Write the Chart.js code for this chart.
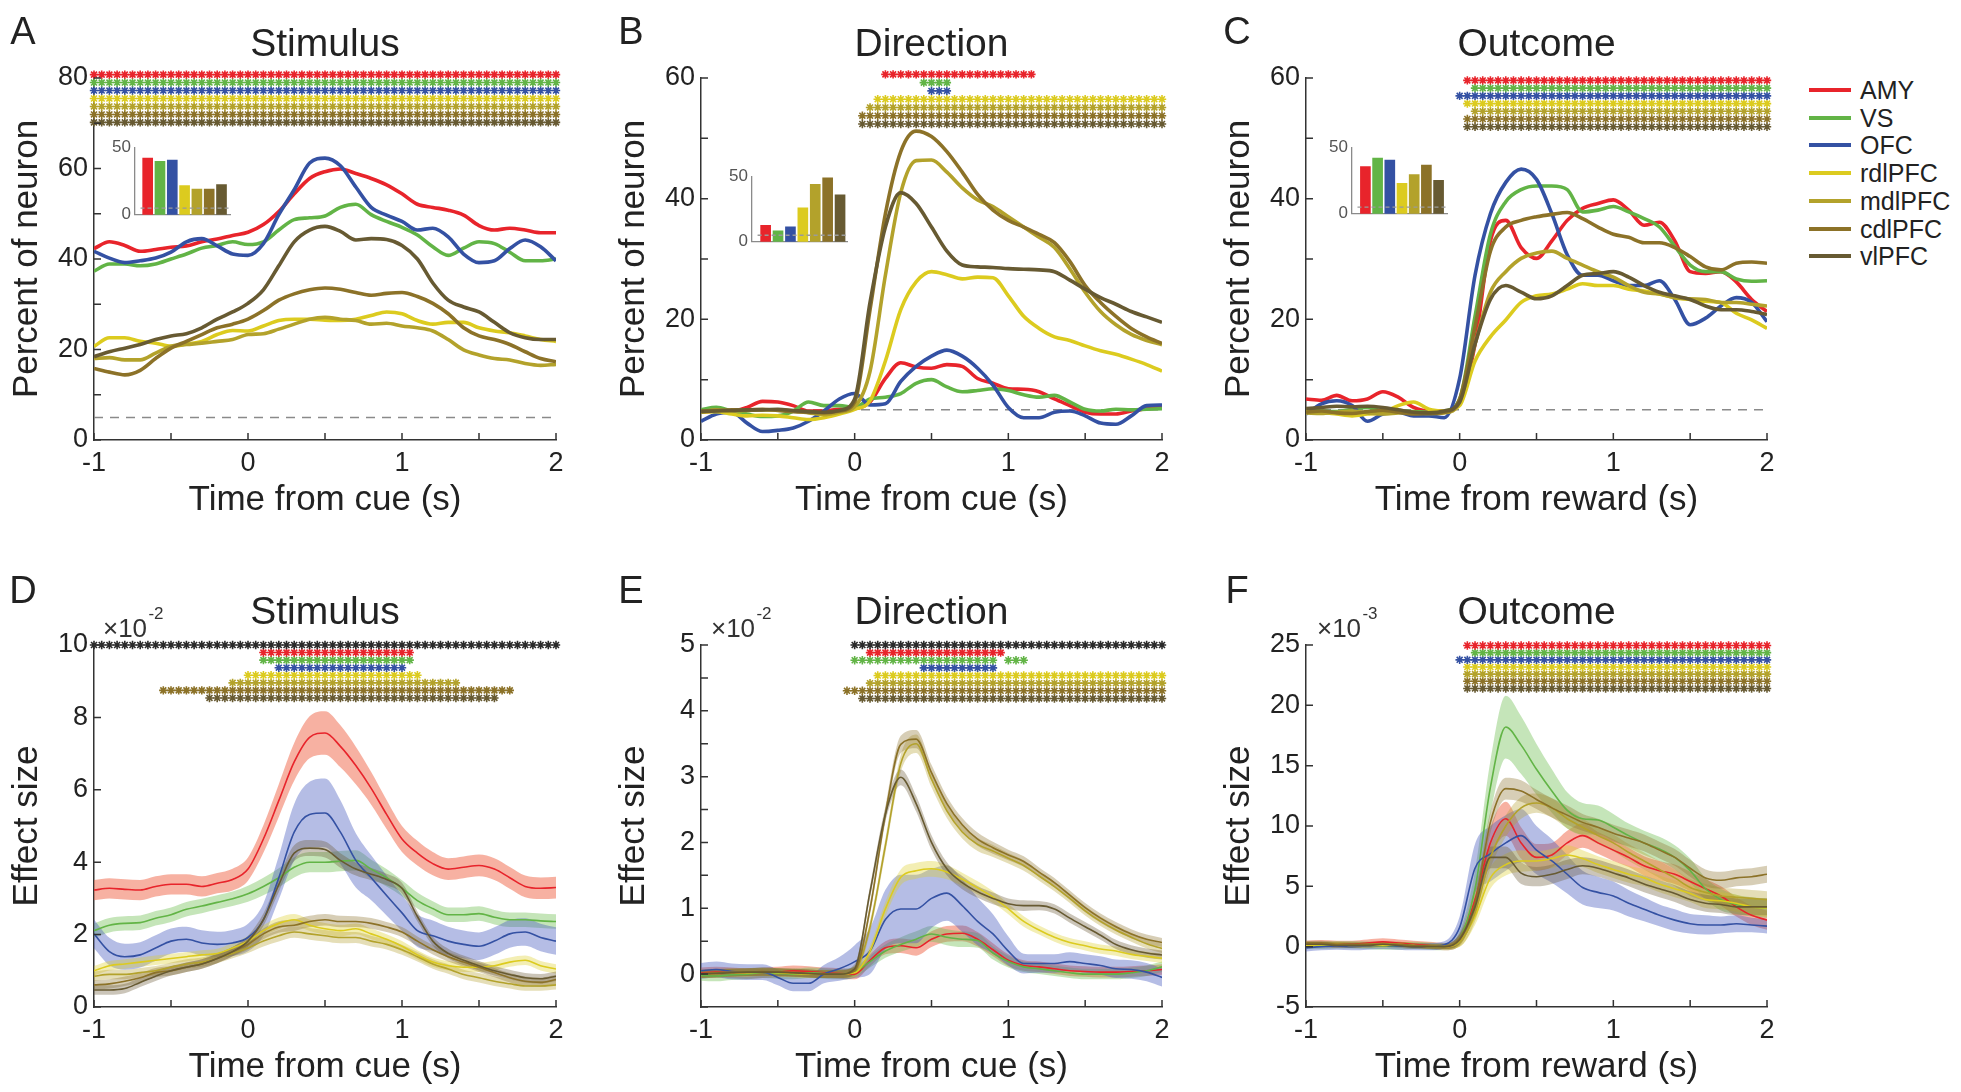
<!DOCTYPE html>
<html>
<head>
<meta charset="utf-8">
<script src="https://cdn.jsdelivr.net/npm/chart.js@4.4.1/dist/chart.umd.min.js"></script>
<style>
  body { margin: 0; background: #fff; width: 1961px; height: 1092px; position: relative; overflow: hidden;
         font-family: "Liberation Sans", Arial, sans-serif; color: #222; }
  canvas { position: absolute; }
  .t { position: absolute; white-space: nowrap; line-height: 1; transform: translate(-50%, -50%); }
  .leg { position: absolute; white-space: nowrap; line-height: 1; font-size: 25px; transform: translateY(-50%); }
  .legline { position: absolute; height: 4px; width: 42px; }
</style>
</head>
<body>
<script>
'use strict';

// ---- data ----
var regions = ['AMY', 'VS', 'OFC', 'rdlPFC', 'mdlPFC', 'cdlPFC', 'vlPFC'];
var colors = ['#e8242b', '#62b446', '#3451a3', '#dccb1f', '#b3a22b', '#8c7228', '#675a32'];
var bandColors = ['rgba(240,100,70,0.5)', 'rgba(110,190,80,0.4)', 'rgba(70,90,190,0.4)', 'rgba(220,205,40,0.35)',
                  'rgba(180,160,50,0.35)', 'rgba(140,115,45,0.35)', 'rgba(105,90,55,0.35)'];

var times = [-1,-0.9,-0.8,-0.7,-0.6,-0.5,-0.4,-0.3,-0.2,-0.1,0,0.1,0.2,0.3,0.4,0.5,0.6,0.7,0.8,0.9,1,1.1,1.2,1.3,1.4,1.5,1.6,1.7,1.8,1.9,2];
var starTimes = [-1,-0.95,-0.9,-0.85,-0.8,-0.75,-0.7,-0.65,-0.6,-0.55,-0.5,-0.45,-0.4,-0.35,-0.3,-0.25,-0.2,-0.15,-0.1,-0.05,
                 0,0.05,0.1,0.15,0.2,0.25,0.3,0.35,0.4,0.45,0.5,0.55,0.6,0.65,0.7,0.75,0.8,0.85,0.9,0.95,
                 1,1.05,1.1,1.15,1.2,1.25,1.3,1.35,1.4,1.45,1.5,1.55,1.6,1.65,1.7,1.75,1.8,1.85,1.9,1.95,2];

// percent of neurons, rows in region order
var pctStimulus = [
  [42.3,43.8,43.0,41.7,42.1,42.6,42.9,43.8,44.4,45.2,45.9,47.6,50.5,54.4,57.8,59.3,59.9,58.9,57.8,56.4,54.4,52.1,51.4,50.8,49.7,47.4,46.4,46.8,46.4,45.8,45.8],
  [37.3,38.9,38.9,38.5,38.9,40.0,41.1,42.4,43.0,43.8,43.2,43.8,46.4,48.7,49.1,49.5,51.4,52.1,49.8,48.3,47.0,45.3,42.7,40.8,42.4,43.8,43.4,41.5,39.6,39.6,40.0],
  [41.7,40.2,39.2,39.6,40.2,41.5,43.8,44.5,42.9,41.1,40.8,43.4,49.8,55.3,61.2,62.3,60.6,55.9,51.4,49.7,48.3,46.4,46.8,44.9,41.1,39.2,39.6,42.3,44.2,42.7,39.6],
  [20.7,22.6,22.6,21.8,21.4,20.7,21.2,21.8,23.3,24.2,24.1,25.2,26.4,26.7,26.7,26.5,26.4,26.7,27.5,28.3,27.9,26.4,25.6,26.0,26.0,24.8,24.1,23.7,23.0,22.2,21.8],
  [18.0,18.2,17.7,17.7,19.2,20.7,21.1,21.4,21.8,22.2,23.3,23.5,24.5,25.6,26.7,27.1,26.7,26.4,25.6,25.8,25.2,24.8,24.1,22.2,19.9,18.8,18.0,17.7,16.9,16.5,16.7],
  [15.8,15.0,14.4,15.4,18.0,20.3,21.8,23.3,24.8,25.6,26.7,28.6,30.9,32.3,33.2,33.6,33.3,32.6,32.0,32.4,32.6,31.7,30.2,27.9,24.8,23.0,22.2,21.1,19.5,18.0,17.3],
  [18.4,19.5,20.3,21.1,22.2,23.0,23.5,24.8,26.7,28.3,30.2,33.2,38.5,43.8,46.4,47.2,46.1,44.2,44.5,44.3,43.0,40.0,34.7,30.9,29.4,28.3,26.0,23.7,22.6,22.2,22.2]
];
var pctDirection = [
  [4.6,4.8,4.8,5.4,6.4,6.3,5.7,4.8,4.8,5.1,5.2,6.3,10.2,12.8,12.1,11.9,12.5,12.2,10.2,9.4,8.5,8.4,8.0,6.8,5.7,4.6,4.3,4.3,4.8,5.2,5.4],
  [5.0,5.4,4.8,4.3,3.9,4.0,4.8,6.3,5.7,5.7,5.4,6.8,7.1,7.7,9.4,10.0,8.8,8.0,8.2,8.5,8.2,7.5,7.1,7.4,6.3,5.1,4.8,5.1,5.0,5.1,5.2],
  [3.1,4.3,4.6,2.8,1.4,1.6,2.0,3.1,4.8,6.8,7.7,5.8,6.0,9.7,12.2,13.9,14.9,13.9,11.9,9.1,5.4,3.7,3.7,4.6,4.8,4.0,2.8,2.6,4.0,5.7,5.8],
  [4.6,4.7,4.3,4.0,4.1,4.0,3.7,3.4,3.7,4.3,5.1,6.5,13.1,21.6,26.2,27.9,27.4,26.7,27.0,26.9,23.9,20.5,18.5,17.1,16.5,15.6,14.8,14.2,13.4,12.5,11.4],
  [4.6,5.0,4.8,4.9,5.0,5.0,4.8,4.5,4.2,4.6,5.5,11.4,27.3,41.0,46.3,46.4,44.4,41.8,39.8,38.7,37.0,35.3,33.6,31.9,28.4,24.5,21.3,19.1,17.5,16.5,15.8],
  [4.8,4.9,5.0,5.0,5.1,4.9,4.7,4.6,4.5,4.8,6.3,21.6,37.5,47.8,51.2,50.3,47.8,44.4,40.7,38.1,36.4,35.3,34.1,32.7,29.6,25.6,22.8,20.5,18.5,17.1,16.0],
  [4.7,4.8,4.9,5.0,5.0,5.1,4.9,4.7,4.6,4.9,6.8,22.8,35.3,41.0,39.2,35.3,31.3,29.0,28.7,28.6,28.4,28.3,28.2,27.9,26.5,25.0,23.6,22.5,21.3,20.4,19.5]
];
var pctOutcome = [
  [6.8,6.6,7.4,6.5,6.8,8.0,7.1,5.4,4.8,4.8,6.3,15.9,33.0,36.4,31.9,30.1,33.0,36.4,38.4,39.2,39.8,38.1,35.6,36.1,33.0,27.9,27.6,27.9,26.2,23.3,21.3],
  [5.1,4.8,4.7,5.1,5.4,4.8,4.8,4.7,4.6,4.8,6.8,20.5,34.1,39.5,41.5,42.1,42.1,41.5,37.8,38.1,38.7,37.8,36.7,35.3,32.1,29.0,27.9,27.9,26.7,26.3,26.4],
  [4.3,6.0,6.5,5.7,3.1,4.3,4.6,4.0,4.0,3.7,10.2,27.3,37.5,42.7,44.9,43.2,37.5,30.7,27.3,27.3,26.4,25.6,25.6,26.4,23.3,19.1,20.2,22.2,23.6,22.8,19.6],
  [4.8,4.6,4.3,4.0,4.3,4.6,5.7,6.3,5.1,4.8,5.7,13.1,17.1,19.9,22.8,23.9,24.2,25.0,25.9,25.6,25.6,25.0,24.7,24.2,23.6,23.3,23.0,22.8,21.0,19.9,18.5],
  [4.5,4.4,4.6,4.8,4.5,4.3,4.5,4.6,4.4,4.5,6.3,15.9,24.5,27.9,30.1,31.0,31.3,30.1,29.0,27.9,27.0,25.6,24.5,24.2,23.6,23.4,23.3,22.8,22.8,22.5,22.2],
  [4.6,4.8,4.5,4.4,4.7,4.9,4.6,4.3,4.4,4.6,6.8,18.8,31.3,35.3,36.4,37.0,37.4,37.7,36.7,35.3,34.1,33.6,32.7,32.7,31.9,30.4,28.7,28.2,29.3,29.5,29.3],
  [5.2,5.4,5.6,5.5,5.6,5.4,5.0,4.6,4.5,4.8,6.3,15.9,23.3,25.6,24.5,23.4,23.9,25.6,27.3,27.6,27.9,27.0,25.6,24.5,23.9,23.3,22.2,21.6,21.6,21.3,20.8]
];

// inset bars: percent of selective neurons per region
var barStimulus = [41.9, 39.5, 40.5, 21.7, 19.0, 19.0, 22.3];
var barDirection = [12.5, 8.3, 11.5, 25.8, 43.8, 48.8, 35.8];
var barOutcome = [35.4, 41.8, 40.3, 22.8, 29.4, 36.6, 25.1];

// effect size (x1e-2 for stimulus/direction, x1e-3 for outcome)
var effStimulus = [
  [3.23,3.28,3.25,3.23,3.33,3.39,3.39,3.33,3.42,3.52,3.81,4.64,5.70,6.77,7.45,7.57,7.20,6.67,6.04,5.32,4.64,4.25,3.96,3.81,3.86,3.91,3.81,3.57,3.33,3.28,3.30],
  [2.11,2.26,2.31,2.33,2.45,2.55,2.70,2.79,2.89,2.99,3.13,3.33,3.57,3.86,4.00,4.00,4.03,4.05,3.81,3.57,3.28,2.94,2.72,2.55,2.55,2.58,2.48,2.41,2.41,2.38,2.36],
  [2.02,1.53,1.39,1.44,1.63,1.82,1.87,1.77,1.73,1.77,1.92,2.41,3.57,4.83,5.32,5.36,4.83,4.05,3.57,3.08,2.60,2.11,1.97,1.82,1.73,1.68,1.82,2.02,2.07,1.92,1.82],
  [1.00,1.14,1.19,1.24,1.29,1.34,1.39,1.44,1.48,1.63,1.82,2.11,2.31,2.41,2.26,2.16,2.11,2.16,2.02,1.87,1.68,1.44,1.24,1.14,1.10,1.10,1.14,1.24,1.29,1.14,1.05],
  [0.85,0.90,0.90,0.95,1.00,1.10,1.19,1.24,1.34,1.48,1.63,1.82,1.97,2.07,2.02,1.97,1.92,1.92,1.82,1.73,1.58,1.39,1.19,1.05,0.90,0.81,0.71,0.64,0.58,0.58,0.61],
  [0.61,0.64,0.71,0.81,0.95,1.00,1.10,1.19,1.34,1.53,1.73,2.02,2.21,2.26,2.36,2.41,2.36,2.36,2.31,2.21,2.07,1.82,1.58,1.39,1.24,1.10,0.95,0.81,0.71,0.68,0.76],
  [0.47,0.47,0.51,0.68,0.85,1.00,1.10,1.19,1.34,1.53,1.82,2.41,3.38,4.25,4.39,4.35,4.05,3.81,3.67,3.52,3.28,2.50,1.82,1.48,1.29,1.14,1.00,0.90,0.81,0.78,0.85]
];
var semStimulus = [
  [0.28,0.28,0.28,0.28,0.28,0.28,0.28,0.28,0.28,0.30,0.32,0.38,0.45,0.52,0.58,0.60,0.58,0.52,0.45,0.40,0.36,0.34,0.32,0.30,0.30,0.30,0.30,0.30,0.30,0.30,0.30],
  [0.20,0.20,0.20,0.20,0.20,0.20,0.20,0.20,0.20,0.20,0.22,0.24,0.26,0.28,0.28,0.28,0.28,0.28,0.26,0.24,0.22,0.22,0.20,0.20,0.20,0.20,0.20,0.20,0.20,0.20,0.20],
  [0.40,0.38,0.36,0.35,0.35,0.35,0.35,0.35,0.35,0.36,0.38,0.45,0.60,0.78,0.90,0.95,0.88,0.75,0.62,0.55,0.50,0.45,0.42,0.40,0.38,0.38,0.38,0.38,0.38,0.38,0.38],
  [0.13,0.13,0.13,0.13,0.13,0.13,0.13,0.13,0.13,0.13,0.14,0.15,0.16,0.16,0.16,0.16,0.16,0.15,0.15,0.14,0.14,0.13,0.13,0.13,0.13,0.13,0.13,0.13,0.13,0.13,0.13],
  [0.13,0.13,0.13,0.13,0.13,0.13,0.13,0.13,0.13,0.13,0.14,0.15,0.16,0.16,0.16,0.16,0.16,0.15,0.15,0.14,0.14,0.13,0.13,0.13,0.13,0.13,0.13,0.13,0.13,0.13,0.13],
  [0.13,0.13,0.13,0.13,0.13,0.13,0.13,0.13,0.13,0.13,0.14,0.15,0.16,0.16,0.16,0.16,0.16,0.15,0.15,0.14,0.14,0.13,0.13,0.13,0.13,0.13,0.13,0.13,0.13,0.13,0.13],
  [0.13,0.13,0.13,0.13,0.13,0.13,0.13,0.13,0.13,0.13,0.15,0.17,0.20,0.22,0.22,0.22,0.20,0.18,0.17,0.16,0.15,0.14,0.13,0.13,0.13,0.13,0.13,0.13,0.13,0.13,0.13]
];
var effDirection = [
  [0.02,0.03,0.02,0.01,0.02,0.03,0.05,0.04,0.02,0.01,0.00,0.21,0.40,0.43,0.40,0.53,0.61,0.62,0.53,0.37,0.21,0.13,0.11,0.08,0.05,0.04,0.03,0.03,0.04,0.05,0.07],
  [-0.02,-0.03,-0.01,0.00,0.02,0.01,0.00,0.02,0.01,0.00,0.03,0.19,0.35,0.45,0.53,0.61,0.56,0.53,0.51,0.32,0.19,0.11,0.08,0.05,0.02,0.00,0.00,0.00,0.02,0.05,0.11],
  [0.05,0.07,0.04,0.03,0.03,-0.05,-0.14,-0.14,0.00,0.08,0.19,0.35,0.83,0.99,0.99,1.15,1.23,1.04,0.80,0.61,0.35,0.16,0.16,0.16,0.19,0.16,0.13,0.08,0.07,0.03,-0.05],
  [0.00,0.01,0.02,0.02,0.03,0.02,0.01,0.00,0.00,0.00,0.02,0.35,0.99,1.47,1.57,1.60,1.55,1.44,1.31,1.17,0.99,0.80,0.67,0.56,0.48,0.43,0.38,0.35,0.30,0.27,0.24],
  [0.00,0.01,0.02,0.03,0.03,0.03,0.02,0.01,0.00,0.00,0.05,0.72,1.95,3.20,3.50,2.96,2.48,2.16,1.97,1.87,1.76,1.65,1.49,1.33,1.15,0.96,0.80,0.67,0.56,0.46,0.39],
  [0.01,0.02,0.03,0.03,0.04,0.03,0.02,0.01,0.00,0.00,0.05,0.99,2.43,3.49,3.57,3.06,2.59,2.27,2.05,1.92,1.81,1.71,1.55,1.39,1.20,1.01,0.85,0.72,0.61,0.53,0.48],
  [0.00,0.01,0.02,0.03,0.03,0.03,0.02,0.01,0.00,0.00,0.08,1.25,2.43,2.99,2.59,2.00,1.60,1.39,1.25,1.15,1.07,1.04,1.04,0.99,0.85,0.72,0.59,0.45,0.37,0.32,0.29]
];
var semDirection = [
  [0.08,0.08,0.08,0.08,0.08,0.08,0.08,0.08,0.08,0.08,0.08,0.09,0.10,0.11,0.12,0.12,0.12,0.12,0.11,0.10,0.09,0.08,0.08,0.08,0.08,0.08,0.08,0.08,0.08,0.08,0.08],
  [0.08,0.08,0.08,0.08,0.08,0.08,0.08,0.08,0.08,0.08,0.08,0.09,0.10,0.11,0.12,0.12,0.12,0.12,0.11,0.10,0.09,0.08,0.08,0.08,0.08,0.08,0.08,0.08,0.08,0.08,0.08],
  [0.12,0.12,0.12,0.12,0.12,0.12,0.12,0.12,0.14,0.18,0.25,0.35,0.45,0.52,0.52,0.45,0.42,0.40,0.36,0.30,0.22,0.15,0.14,0.14,0.14,0.14,0.14,0.14,0.14,0.14,0.14],
  [0.06,0.06,0.06,0.06,0.06,0.06,0.06,0.06,0.06,0.06,0.07,0.09,0.11,0.12,0.12,0.12,0.11,0.10,0.10,0.09,0.08,0.08,0.07,0.07,0.07,0.07,0.07,0.07,0.07,0.07,0.07],
  [0.06,0.06,0.06,0.06,0.06,0.06,0.06,0.06,0.06,0.06,0.07,0.09,0.11,0.13,0.14,0.12,0.11,0.10,0.10,0.09,0.08,0.08,0.07,0.07,0.07,0.07,0.07,0.07,0.07,0.07,0.07],
  [0.06,0.06,0.06,0.06,0.06,0.06,0.06,0.06,0.06,0.06,0.07,0.09,0.11,0.13,0.14,0.12,0.11,0.10,0.10,0.09,0.08,0.08,0.07,0.07,0.07,0.07,0.07,0.07,0.07,0.07,0.07],
  [0.06,0.06,0.06,0.06,0.06,0.06,0.06,0.06,0.06,0.06,0.07,0.09,0.11,0.12,0.12,0.11,0.10,0.10,0.09,0.09,0.08,0.08,0.07,0.07,0.07,0.07,0.07,0.07,0.07,0.07,0.07]
];
var effOutcome = [
  [0.2,0.25,0.2,0.2,0.3,0.4,0.3,0.2,0.1,0.0,0.6,3.9,8.6,10.6,8.6,7.4,7.6,8.6,9.2,8.6,8.0,7.4,6.7,6.3,6.0,5.4,4.8,4.2,3.3,2.6,2.2],
  [0.1,0.1,0.15,0.15,0.1,0.05,0.05,0.1,0.05,0.0,0.7,4.8,13.2,18.2,16.7,14.7,12.9,11.3,10.6,10.5,9.9,9.2,8.6,8.1,7.4,6.3,4.8,3.9,3.5,3.3,3.2],
  [-0.1,0.0,0.05,0.0,0.05,0.1,0.05,0.0,0.0,0.15,1.6,6.5,7.7,8.6,9.2,8.0,7.1,6.0,4.9,4.5,4.2,3.6,3.1,2.6,2.2,1.9,1.8,1.8,1.9,1.8,1.7],
  [0.1,0.15,0.2,0.1,0.1,0.1,0.2,0.1,0.0,0.0,0.4,2.5,5.7,6.8,7.1,7.1,7.3,7.6,7.3,6.8,6.4,6.0,5.7,5.2,4.8,4.4,3.9,3.8,3.6,3.3,3.2],
  [0.2,0.2,0.2,0.15,0.2,0.25,0.2,0.1,0.05,0.0,0.4,2.8,7.4,10.0,11.5,11.9,11.5,10.6,9.9,9.2,8.6,7.8,7.1,6.4,5.7,4.9,4.5,4.2,4.1,4.0,3.9],
  [0.3,0.3,0.2,0.2,0.2,0.2,0.2,0.1,0.05,0.0,0.7,3.6,10.3,13.1,12.9,12.2,11.5,10.9,10.3,9.9,9.4,9.0,8.6,8.0,7.4,6.5,5.7,5.5,5.7,5.8,6.0],
  [0.2,0.2,0.1,0.1,0.1,0.2,0.1,0.0,0.0,0.0,0.6,3.3,7.4,7.4,6.1,5.8,6.0,6.4,6.7,6.5,6.1,5.7,5.2,4.8,4.4,3.9,3.6,3.5,3.3,3.3,3.3]
];
var semOutcome = [
  [0.3,0.3,0.3,0.3,0.3,0.3,0.3,0.3,0.3,0.3,0.5,1.0,1.3,1.4,1.3,1.1,1.0,1.0,1.0,0.9,0.9,0.8,0.8,0.8,0.8,0.8,0.8,0.8,0.8,0.8,0.8],
  [0.3,0.3,0.3,0.3,0.3,0.3,0.3,0.3,0.3,0.3,0.6,1.5,2.2,2.6,2.4,2.1,1.8,1.5,1.3,1.2,1.1,1.0,1.0,1.0,1.0,1.0,0.9,0.9,0.8,0.8,0.8],
  [0.3,0.3,0.3,0.3,0.3,0.3,0.3,0.3,0.3,0.3,0.9,2.0,2.3,2.3,2.2,2.0,1.8,1.6,1.4,1.3,1.2,1.1,1.0,0.9,0.9,0.8,0.8,0.7,0.7,0.6,0.6],
  [0.2,0.2,0.2,0.2,0.2,0.2,0.2,0.2,0.2,0.2,0.4,0.7,0.9,0.9,0.9,0.8,0.8,0.8,0.7,0.7,0.7,0.7,0.7,0.7,0.7,0.7,0.7,0.7,0.7,0.7,0.7],
  [0.2,0.2,0.2,0.2,0.2,0.2,0.2,0.2,0.2,0.2,0.4,0.7,0.9,0.9,0.9,0.8,0.8,0.8,0.7,0.7,0.7,0.7,0.7,0.7,0.7,0.7,0.7,0.7,0.7,0.7,0.7],
  [0.2,0.2,0.2,0.2,0.2,0.2,0.2,0.2,0.2,0.2,0.4,0.7,0.9,0.9,0.9,0.8,0.8,0.8,0.7,0.7,0.7,0.7,0.7,0.7,0.7,0.7,0.7,0.7,0.7,0.7,0.7],
  [0.2,0.2,0.2,0.2,0.2,0.2,0.2,0.2,0.2,0.2,0.4,0.7,0.9,0.9,0.9,0.8,0.8,0.8,0.7,0.7,0.7,0.7,0.7,0.7,0.7,0.7,0.7,0.7,0.7,0.7,0.7]
];

// significant periods (s), one row per region; effect-size panels start with an "all regions" row
var sigPctStimulus = [[[-1, 2]], [[-1, 2]], [[-1, 2]], [[-1, 2]], [[-1, 2]], [[-1, 2]], [[-1, 2]]];
var sigPctDirection = [[[0.19, 1.17]], [[0.44, 0.62]], [[0.48, 0.62]], [[0.13, 2]], [[0.08, 2]], [[0.04, 2]], [[0.04, 2]]];
var sigPctOutcome = [[[0.03, 2]], [[0.07, 2]], [[-0.03, 2]], [[0.02, 2]], [[0.07, 2]], [[0.02, 2]], [[0.02, 2]]];
var sigEffStimulus = [[[-1, 2]], [[0.08, 1.06]], [[0.08, 1.07]], [[0.18, 1.01]], [[-0.02, 1.12]], [[-0.11, 1.36]], [[-0.57, 1.72]], [[-0.27, 1.62]]];
var sigEffDirection = [[[-0.02, 2]], [[0.08, 0.96]], [[-0.02, 0.92], [0.99, 1.11]], [[0.44, 0.92]], [[0.13, 2]], [[0.08, 2]], [[-0.06, 2]], [[0.04, 2]]];
var sigEffOutcome = [[[0, 0.75], [0.94, 2]], [[0.03, 2]], [[0.08, 2]], [[-0.01, 2]], [[0.04, 2]], [[0.04, 2]], [[0.04, 2]], [[0.04, 2]]];

var chance = 5;

// ---- drawing ----
Chart.defaults.font.family = '"Liberation Sans", Arial, sans-serif';
Chart.defaults.color = '#222';

var inTicks = {
    id: 'inTicks',
    afterDraw: function(chart) {
        var ctx = chart.ctx, a = chart.chartArea;
        var xs = chart.scales.x, ys = chart.scales.y;
        ctx.save();
        ctx.strokeStyle = '#333';
        ctx.lineWidth = 1.5;
        ctx.beginPath();
        xs.ticks.forEach(function(t) {
            var px = xs.getPixelForValue(t.value);
            ctx.moveTo(px, a.bottom); ctx.lineTo(px, a.bottom - 7);
        });
        ys.ticks.forEach(function(t) {
            var py = ys.getPixelForValue(t.value);
            ctx.moveTo(a.left, py); ctx.lineTo(a.left + 7, py);
        });
        ctx.stroke();
        ctx.restore();
    }
};

function mkCanvas(left, top, w, h) {
    var c = document.createElement('canvas');
    c.width = w; c.height = h;
    c.style.left = left + 'px'; c.style.top = top + 'px';
    c.style.width = w + 'px'; c.style.height = h + 'px';
    document.body.appendChild(c);
    return c;
}

function txt(s, x, y, size, extra) {
    var d = document.createElement('div');
    d.className = 't';
    d.innerHTML = s;
    d.style.left = x + 'px'; d.style.top = y + 'px'; d.style.fontSize = size + 'px';
    if (extra) d.style.cssText += extra;
    document.body.appendChild(d);
}

function lineSets(vals, width) {
    return vals.map(function(v, i) {
        return {
            data: times.map(function(t, k) { return {x: t, y: v[k]}; }),
            borderColor: colors[i], borderWidth: width, pointRadius: 0,
            cubicInterpolationMode: 'monotone', fill: false, order: 20 - i
        };
    });
}

function bandSets(vals, sem) {
    var out = [];
    vals.forEach(function(v, i) {
        out.push({
            data: times.map(function(t, k) { return {x: t, y: v[k] + sem[i][k]}; }),
            borderColor: 'rgba(0,0,0,0)', borderWidth: 0, pointRadius: 0,
            cubicInterpolationMode: 'monotone', fill: false, order: 40 - i
        });
        out.push({
            data: times.map(function(t, k) { return {x: t, y: v[k] - sem[i][k]}; }),
            borderColor: 'rgba(0,0,0,0)', borderWidth: 0, pointRadius: 0,
            cubicInterpolationMode: 'monotone', fill: '-1', backgroundColor: bandColors[i], order: 40 - i
        });
    });
    return out;
}

function starSets(sig, rowColors, y0, dy) {
    return sig.map(function(spans, r) {
        var pts = starTimes.filter(function(t) {
            return spans.some(function(s) { return t >= s[0] - 1e-6 && t <= s[1] + 1e-6; });
        }).map(function(t) { return {x: t, y: y0 - r * dy}; });
        return {
            data: pts, showLine: false, pointStyle: 'star', pointRadius: 4.2,
            pointBorderColor: rowColors[r], pointBackgroundColor: rowColors[r], pointBorderWidth: 1.6,
            clip: false, order: 0
        };
    });
}

function panel(cfg) {
    var padL = 94, padR = 24, xH = 84;
    var W = padL + cfg.w + padR, H = cfg.padT + cfg.h + xH;
    var c = mkCanvas(cfg.left - padL, cfg.top - cfg.padT, W, H);
    var every = cfg.yEvery;
    new Chart(c, {
        type: 'line',
        data: { datasets: cfg.datasets },
        plugins: [inTicks],
        options: {
            responsive: false, animation: false, devicePixelRatio: 1,
            layout: { padding: { top: cfg.padT, right: padR, left: 0, bottom: 0 } },
            plugins: { legend: { display: false }, tooltip: { enabled: false } },
            scales: {
                x: {
                    type: 'linear', min: -1, max: 2,
                    afterFit: function(s) { s.height = xH; },
                    grid: { display: false, drawTicks: false },
                    border: { display: true, color: '#333', width: 1.5 },
                    ticks: { stepSize: 0.5, autoSkip: false, maxRotation: 0, padding: 7, font: { size: 27 }, color: '#222',
                             callback: function(v) { return Number.isInteger(v) ? v : ''; } },
                    title: { display: true, text: cfg.xTitle, font: { size: 35 }, color: '#222', padding: { top: 0, bottom: 3 } }
                },
                y: {
                    type: 'linear', min: cfg.yMin, max: cfg.yMax,
                    afterFit: function(s) { s.width = padL; },
                    grid: { display: false, drawTicks: false },
                    border: { display: true, color: '#333', width: 1.5 },
                    ticks: { stepSize: cfg.yStep, autoSkip: false, padding: 6, font: { size: 27 }, color: '#222',
                             callback: function(v) { var q = v / every; return Math.abs(q - Math.round(q)) < 1e-6 ? v : ''; } },
                    title: { display: true, text: cfg.yTitle, font: { size: 35 }, color: '#222', padding: { top: 6, bottom: 0 } }
                }
            }
        }
    });
}

function inset(vals, ax, top, bot, right, xmin, xmax) {
    var padL = 34, padT = 12, padB = 2, padR = 4;
    var c = mkCanvas(ax - padL, top - padT, padL + (right - ax) + padR, padT + (bot - top) + padB);
    new Chart(c, {
        type: 'bar',
        data: { datasets: [
            { type: 'line', data: [{x: xmin + 0.45, y: chance}, {x: xmax, y: chance}], borderColor: '#9a9a9a',
              borderWidth: 1.3, borderDash: [4, 3], pointRadius: 0, order: 0 },
            { data: vals.map(function(v, i) { return {x: i, y: v}; }), backgroundColor: colors,
              barThickness: 10, borderWidth: 0, order: 1 }
        ] },
        options: {
            responsive: false, animation: false, devicePixelRatio: 1,
            layout: { padding: { top: padT, right: padR, left: 0, bottom: 0 } },
            plugins: { legend: { display: false }, tooltip: { enabled: false } },
            scales: {
                x: { type: 'linear', min: xmin, max: xmax, offset: false, afterFit: function(s) { s.height = padB; },
                     ticks: { display: false }, grid: { display: false, drawTicks: false, offset: false },
                     border: { display: true, color: '#8a8a8a', width: 1.3 } },
                y: { min: 0, max: 50, afterFit: function(s) { s.width = padL; },
                     ticks: { stepSize: 50, padding: 4, font: { size: 17 }, color: '#555' },
                     grid: { display: false, drawTicks: false },
                     border: { display: true, color: '#8a8a8a', width: 1.3 } }
            }
        }
    });
}

function chanceSet() {
    return { data: [{x: -1, y: chance}, {x: 2, y: chance}], borderColor: '#8a8a8a', borderWidth: 1.5,
             borderDash: [9, 7], pointRadius: 0, order: 50 };
}

var allColors = ['#2a2a2a'].concat(colors);
var cols = [{ left: 94, w: 462 }, { left: 701, w: 461 }, { left: 1306, w: 461 }];
var topRow = { top: 78, h: 362, padT: 78 };
var botRow = { top: 645, h: 362, padT: 100 };

// top row: percent of neurons
panel({ left: cols[0].left, w: cols[0].w, top: topRow.top, h: topRow.h, padT: topRow.padT,
        yMin: 0, yMax: 80, yStep: 10, yEvery: 20, yTitle: 'Percent of neuron', xTitle: 'Time from cue (s)',
        datasets: [chanceSet()].concat(lineSets(pctStimulus, 3.6), starSets(sigPctStimulus, colors, 80.75, 1.76)) });
panel({ left: cols[1].left, w: cols[1].w, top: topRow.top, h: topRow.h, padT: topRow.padT,
        yMin: 0, yMax: 60, yStep: 10, yEvery: 20, yTitle: 'Percent of neuron', xTitle: 'Time from cue (s)',
        datasets: [chanceSet()].concat(lineSets(pctDirection, 3.6), starSets(sigPctDirection, colors, 60.6, 1.37)) });
panel({ left: cols[2].left, w: cols[2].w, top: topRow.top, h: topRow.h, padT: topRow.padT,
        yMin: 0, yMax: 60, yStep: 10, yEvery: 20, yTitle: 'Percent of neuron', xTitle: 'Time from reward (s)',
        datasets: [chanceSet()].concat(lineSets(pctOutcome, 3.6), starSets(sigPctOutcome, colors, 59.6, 1.28)) });

// bottom row: effect size
panel({ left: cols[0].left, w: cols[0].w, top: botRow.top, h: botRow.h, padT: botRow.padT,
        yMin: 0, yMax: 10, yStep: 2, yEvery: 2, yTitle: 'Effect size', xTitle: 'Time from cue (s)',
        datasets: bandSets(effStimulus, semStimulus).concat(lineSets(effStimulus, 1.6), starSets(sigEffStimulus, allColors, 10.0, 0.209)) });
panel({ left: cols[1].left, w: cols[1].w, top: botRow.top, h: botRow.h, padT: botRow.padT,
        yMin: -0.5, yMax: 5, yStep: 0.5, yEvery: 1, yTitle: 'Effect size', xTitle: 'Time from cue (s)',
        datasets: bandSets(effDirection, semDirection).concat(lineSets(effDirection, 1.6), starSets(sigEffDirection, allColors, 5.0, 0.116)) });
panel({ left: cols[2].left, w: cols[2].w, top: botRow.top, h: botRow.h, padT: botRow.padT,
        yMin: -5, yMax: 25, yStep: 5, yEvery: 5, yTitle: 'Effect size', xTitle: 'Time from reward (s)',
        datasets: bandSets(effOutcome, semOutcome).concat(lineSets(effOutcome, 1.6), starSets(sigEffOutcome, allColors, 25.55, 0.593)) });

// insets
inset(barStimulus, 135, 145, 227, 230, -1.03, 6.69);
inset(barDirection, 752, 174, 254, 847, -1.1, 6.56);
inset(barOutcome, 1352, 145, 226, 1447, -1.1, 6.69);

// titles and panel letters
var titles = ['Stimulus', 'Direction', 'Outcome'];
titles.forEach(function(s, i) {
    var cx = cols[i].left + cols[i].w / 2;
    txt(s, cx, 42, 39);
    txt(s, cx, 610, 39);
});
var letterX = [23, 631, 1237];
['A', 'B', 'C'].forEach(function(s, i) { txt(s, letterX[i], 31, 38); });
['D', 'E', 'F'].forEach(function(s, i) { txt(s, letterX[i], 590, 38); });

// axis multipliers
var mult = [['-2', 125], ['-2', 733], ['-3', 1339]];
mult.forEach(function(m) {
    txt('&times;10', m[1], 628, 26, 'color:#333');
    txt(m[0], m[1] + 31, 613, 17, 'color:#333');
});

// legend
regions.forEach(function(r, i) {
    var y = 90 + i * 27.7;
    var l = document.createElement('div');
    l.className = 'legline';
    l.style.left = '1809px'; l.style.top = (y - 2) + 'px'; l.style.background = colors[i];
    document.body.appendChild(l);
    var d = document.createElement('div');
    d.className = 'leg';
    d.textContent = r;
    d.style.left = '1860px'; d.style.top = y + 'px';
    document.body.appendChild(d);
});
</script>
</body>
</html>
